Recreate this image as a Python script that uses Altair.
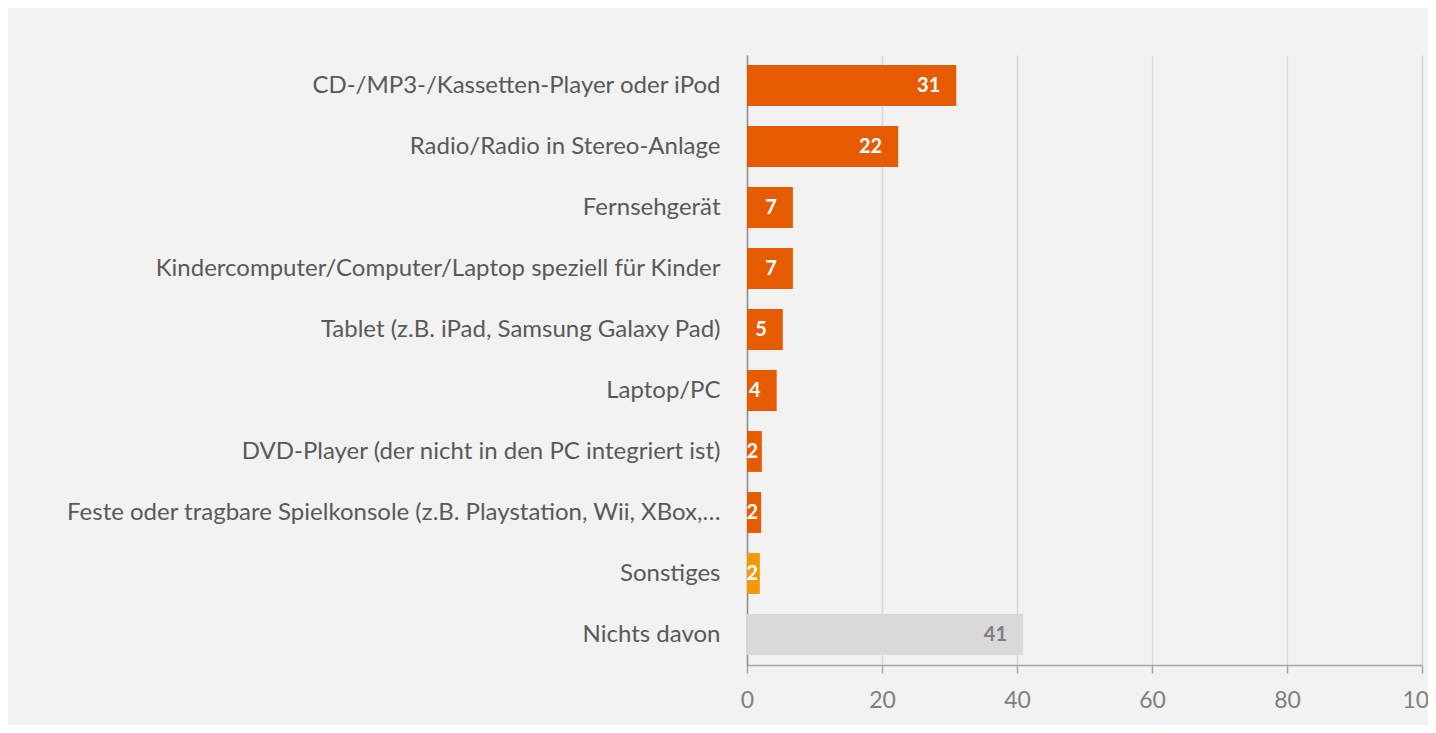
import altair as alt
import pandas as pd

categories = [
    "CD-/MP3-/Kassetten-Player oder iPod",
    "Radio/Radio in Stereo-Anlage",
    "Fernsehgerät",
    "Kindercomputer/Computer/Laptop speziell für Kinder",
    "Tablet (z.B. iPad, Samsung Galaxy Pad)",
    "Laptop/PC",
    "DVD-Player (der nicht in den PC integriert ist)",
    "Feste oder tragbare Spielkonsole (z.B. Playstation, Wii, XBox,…",
    "Sonstiges",
    "Nichts davon",
]
values = [31, 22.4, 6.8, 6.8, 5.3, 4.4, 2.2, 2.1, 1.9, 40.9]
labels = ["31", "22", "7", "7", "5", "4", "2", "2", "2", "41"]
groups = ["main"] * 8 + ["other", "none"]

df = pd.DataFrame({"cat": categories, "value": values, "label": labels, "group": groups})

FONT = "Lato"

y = alt.Y(
    "cat:N",
    sort=categories,
    title=None,
    scale=alt.Scale(paddingInner=0.33, paddingOuter=0.165),
    axis=alt.Axis(
        ticks=False,
        labelPadding=27,
        labelFont=FONT,
        labelFontSize=24,
        labelColor="#595959",
        labelLimit=900,
        domainColor="#8c8c8c",
        domainWidth=1.5,
        grid=False,
    ),
)

x = alt.X(
    "value:Q",
    title=None,
    scale=alt.Scale(domain=[0, 100], nice=False),
    axis=alt.Axis(
        values=[0, 20, 40, 60, 80, 100],
        grid=True,
        gridColor="#d9d9d9",
        gridWidth=1.5,
        domainColor="#a6a6a6",
        domainWidth=1.5,
        tickColor="#a6a6a6",
        tickWidth=1.5,
        tickSize=8,
        labelPadding=16,
        labelFlush=False,
        labelBound=False,
        labelOverlap=False,
        labelFont=FONT,
        labelFontSize=23,
        labelColor="#808080",
    ),
)

bars = alt.Chart(df).mark_bar().encode(
    x=x,
    y=y,
    color=alt.Color(
        "group:N",
        scale=alt.Scale(domain=["main", "other", "none"], range=["#e65a00", "#f39800", "#d9d9d9"]),
        legend=None,
    ),
)

text = alt.Chart(df).transform_calculate(
    lx="max(datum.value, 4.0)"
).mark_text(
    align="right", baseline="middle", dx=-16, font=FONT, fontSize=20, fontWeight="bold"
).encode(
    x=alt.X("lx:Q"),
    y=alt.Y("cat:N", sort=categories),
    text="label:N",
    color=alt.Color(
        "group:N",
        scale=alt.Scale(domain=["main", "other", "none"], range=["#ffffff", "#ffffff", "#7f7f7f"]),
        legend=None,
    ),
)

chart = (
    alt.layer(bars, text)
    .resolve_scale(color="independent")
    .properties(
        width=675,
        height=610,
        background="#f2f2f2",
        padding={"left": 739, "top": 47, "right": 6, "bottom": 60},
        autosize=alt.AutoSizeParams(type="none"),
    )
    .configure_view(stroke=None)
)

chart.save("out.html", embed_options={"renderer": "svg", "actions": False})
